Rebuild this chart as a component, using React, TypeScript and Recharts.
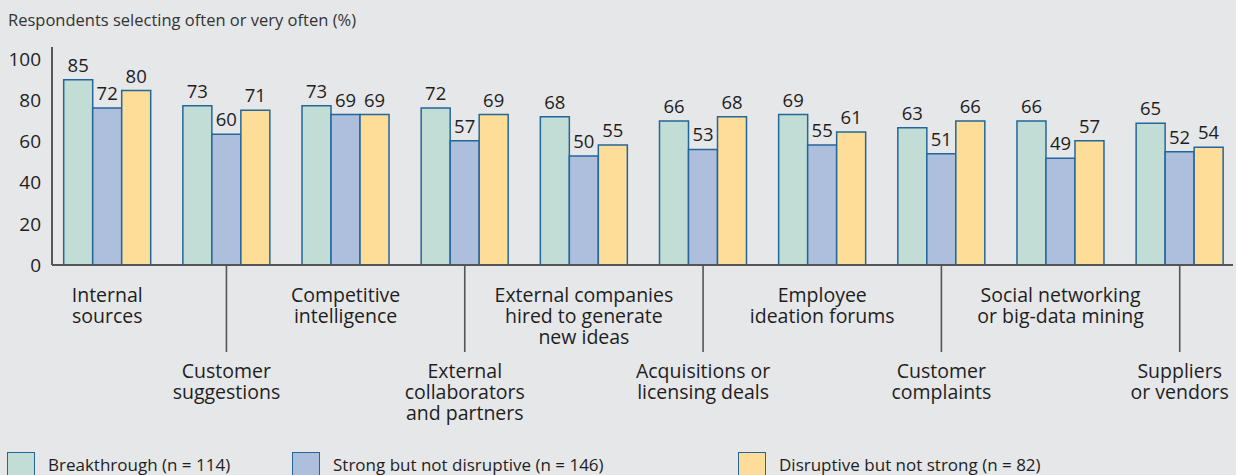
import React from "react";
import { ComposedChart, Bar, Line, XAxis, YAxis, LabelList } from "recharts";

const categories = [
  "Internal|sources",
  "Customer|suggestions",
  "Competitive|intelligence",
  "External|collaborators|and partners",
  "External companies|hired to generate|new ideas",
  "Acquisitions or|licensing deals",
  "Employee|ideation forums",
  "Customer|complaints",
  "Social networking|or big-data mining",
  "Suppliers|or vendors",
];
const breakthrough = [85, 73, 73, 72, 68, 66, 69, 63, 66, 65];
const strongNotDisruptive = [72, 60, 69, 57, 50, 53, 55, 51, 49, 52];
const disruptiveNotStrong = [80, 71, 69, 69, 55, 68, 61, 66, 57, 54];
const yTicks = [0, 20, 40, 60, 80, 100];
const seriesNames = [
  "Breakthrough (n = 114)",
  "Strong but not disruptive (n = 146)",
  "Disruptive but not strong (n = 82)",
];
const seriesKeys = ["breakthrough", "strong", "disruptive"];
const seriesColors = ["#c2ddd6", "#adbfdc", "#fedd99"];

const data = categories.map((c, i) => ({
  category: c,
  breakthrough: breakthrough[i],
  strong: strongNotDisruptive[i],
  disruptive: disruptiveNotStrong[i],
}));

const FONT = "'Open Sans', 'Noto Sans', sans-serif";
const TEXT = "#1e1e1e";
const STROKE = "#23679a";
const AXIS = "#555555";
const BG = "#e6e7e9";
const legendX = [7, 292, 738];

const CategoryTick = (props: any) => {
  const { x, y, payload, index } = props;
  const lines = String(payload.value).split("|");
  const lower = index % 2 === 1;
  const start = lower ? 106 : 30;
  return (
    <g>
      {lower && (
        <line x1={x} x2={x} y1={y} y2={y + 87} stroke={AXIS} strokeWidth={1.6} />
      )}
      {lines.map((l, k) => (
        <text
          key={k}
          x={x}
          y={y + start + k * 21}
          dy="0.355em"
          textAnchor="middle"
          fontSize={19.5}
          fontFamily={FONT}
          fill={TEXT}
        >
          {l}
        </text>
      ))}
    </g>
  );
};

const ValueTick = (props: any) => {
  const { x, y, payload } = props;
  return (
    <text
      x={x}
      y={y}
      dy="0.355em"
      textAnchor="end"
      fontSize={19}
      fontFamily={FONT}
      fill={TEXT}
    >
      {payload.value}
    </text>
  );
};

export default function App() {
  return (
    <div
      style={{
        position: "absolute",
        left: 0,
        top: 0,
        width: 1236,
        height: 475,
        background: BG,
        overflow: "hidden",
        fontFamily: FONT,
      }}
    >
      <style>{`html,body{margin:0;padding:0;background:${BG};overflow:hidden;}`}</style>
      <div
        style={{
          position: "absolute",
          left: 8,
          top: 9,
          fontSize: 16.5,
          color: "#333",
          lineHeight: "22px",
          whiteSpace: "nowrap",
        }}
      >
        Respondents selecting often or very often (%)
      </div>
      <div style={{ position: "absolute", left: 0, top: 0 }}>
        <ComposedChart
          width={1236}
          height={475}
          data={data}
          margin={{ top: 47, right: 3, left: 0, bottom: 60 }}
          barGap={0}
        >
          <XAxis
            dataKey="category"
            height={150}
            tickLine={false}
            tickSize={0}
            tickMargin={0}
            interval={0}
            padding={{ left: -4.3, right: -6.3 }}
            axisLine={{ stroke: AXIS, strokeWidth: 2 }}
            tick={<CategoryTick />}
          />
          <YAxis
            yAxisId="ticks"
            type="number"
            domain={[0, 105.8]}
            ticks={yTicks}
            width={52}
            tickLine={false}
            tickSize={0}
            tickMargin={11}
            axisLine={{ stroke: AXIS, strokeWidth: 2 }}
            tick={<ValueTick />}
            allowDataOverflow
          />
          <YAxis yAxisId="bars" type="number" domain={[0, 100]} width={0} hide />
          {seriesKeys.map((k, i) => (
            <Bar
              key={k}
              yAxisId="bars"
              dataKey={k}
              name={seriesNames[i]}
              fill={seriesColors[i]}
              stroke={STROKE}
              strokeWidth={1.5}
              barSize={29}
              isAnimationActive={false}
            >
              <LabelList
                dataKey={k}
                position="top"
                offset={8}
                fontSize={18.5}
                fontFamily={FONT}
                fill={TEXT}
              />
            </Bar>
          ))}
          <Line
            yAxisId="ticks"
            dataKey="breakthrough"
            stroke="none"
            dot={false}
            activeDot={false}
            legendType="none"
            isAnimationActive={false}
          />
        </ComposedChart>
      </div>
      {seriesNames.map((n, i) => (
        <div
          key={n}
          style={{
            position: "absolute",
            left: legendX[i],
            top: 452,
            display: "flex",
            alignItems: "flex-start",
          }}
        >
          <div
            style={{
              width: 28,
              height: 28,
              background: seriesColors[i],
              border: `1.5px solid ${STROKE}`,
              boxSizing: "border-box",
            }}
          />
          <div
            style={{
              marginLeft: 13,
              fontSize: 17,
              lineHeight: "26px",
              color: TEXT,
              whiteSpace: "nowrap",
            }}
          >
            {n}
          </div>
        </div>
      ))}
    </div>
  );
}
